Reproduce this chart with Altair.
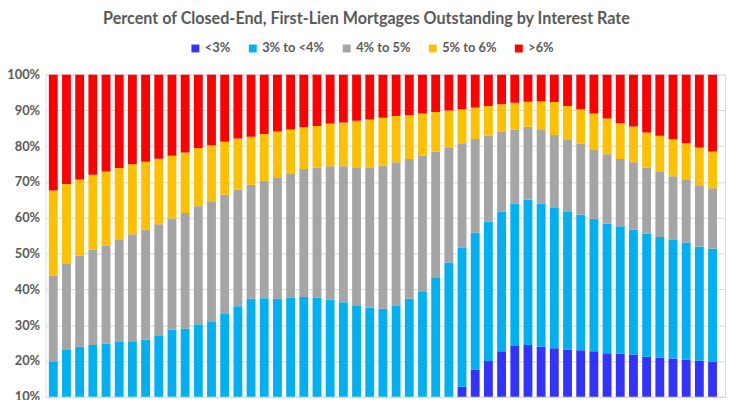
import altair as alt
import pandas as pd

# Quarters (2013Q1 .. 2025Q3), 51 bars
quarters = [f"{y}Q{q}" for y in range(2013, 2026) for q in range(1, 5)][:51]

series = ["<3%", "3% to <4%", "4% to 5%", "5% to 6%", ">6%"]
colors = ["#3333FF", "#00B0F0", "#A5A5A5", "#FFC000", "#FF0000"]

lt3 = [0.0] * 31 + [12.8, 17.6, 20.0, 22.7, 24.2, 24.5, 24.0, 23.6, 23.2, 23.0,
                    22.7, 22.2, 22.0, 21.8, 21.2, 21.0, 20.7, 20.4, 20.1, 19.9]

r3to4 = [19.7, 23.1, 24.0, 24.5, 24.9, 25.3, 25.5, 26.0, 27.2, 28.7,
         29.1, 30.3, 31.1, 33.1, 35.3, 37.4, 37.5, 37.4, 37.7, 37.9,
         37.7, 37.1, 36.4, 35.6, 34.9, 34.6, 35.6, 37.4, 39.5, 43.4,
         47.5, 38.9, 38.2, 38.9, 39.0, 39.8, 40.5, 40.0, 39.1, 38.4,
         37.9, 37.0, 36.2, 35.6, 34.9, 34.4, 33.6, 33.1, 32.7, 31.9, 31.5]

r4to5 = [24.1, 24.0, 25.4, 26.6, 27.3, 28.5, 29.9, 30.7, 31.0, 31.1,
         32.2, 32.9, 33.5, 33.3, 32.5, 31.8, 32.8, 33.9, 34.7, 35.7,
         36.3, 37.3, 38.0, 38.3, 39.0, 40.0, 39.9, 39.0, 37.9, 35.1,
         32.2, 29.1, 26.2, 24.0, 22.2, 20.6, 20.4, 20.7, 20.4, 20.3,
         19.8, 19.4, 19.3, 18.8, 18.8, 18.4, 18.2, 17.8, 17.4, 17.1, 16.8]

r5to6 = [23.8, 22.3, 21.3, 20.9, 20.7, 20.1, 19.5, 18.9, 18.3, 17.5,
         16.9, 16.3, 15.6, 14.8, 14.3, 13.4, 13.1, 12.8, 12.2, 11.7,
         11.6, 11.9, 12.2, 13.2, 13.5, 13.3, 12.9, 12.3, 11.7, 11.0,
         10.2, 9.5, 8.8, 8.3, 7.8, 7.5, 7.0, 7.8, 9.2, 9.3,
         9.6, 10.0, 10.0, 10.0, 10.0, 9.8, 10.1, 10.3, 10.3, 10.5, 10.3]

gt6 = [32.4, 30.6, 29.3, 28.0, 27.1, 26.1, 25.1, 24.4, 23.5, 22.7,
       21.8, 20.5, 19.8, 18.8, 17.9, 17.4, 16.6, 15.9, 15.4, 14.7,
       14.4, 13.7, 13.4, 12.9, 12.6, 12.1, 11.6, 11.3, 10.9, 10.5,
       10.1, 9.7, 9.2, 8.8, 8.3, 7.9, 7.6, 7.5, 7.7, 8.8,
       9.7, 10.9, 12.3, 13.6, 14.5, 16.2, 17.1, 18.1, 19.2, 20.4, 21.5]

values = [lt3, r3to4, r4to5, r5to6, gt6]

rows = []
for rank, (name, vals) in enumerate(zip(series, values)):
    for q, v in zip(quarters, vals):
        rows.append({"quarter": q, "rate": name, "share": v, "rank": rank})
df = pd.DataFrame(rows)

TXT = "#595959"
FONT = "Lato"

chart = (
    alt.Chart(df)
    .mark_bar(clip=True)
    .encode(
        x=alt.X(
            "quarter:N",
            sort=quarters,
            axis=None,
            scale=alt.Scale(paddingInner=0.33, paddingOuter=0.43, align=0.29),
        ),
        y=alt.Y(
            "share:Q",
            stack="zero",
            scale=alt.Scale(domain=[10, 100], nice=False, zero=False),
            axis=alt.Axis(
                values=[10, 20, 30, 40, 50, 60, 70, 80, 90, 100],
                labelExpr="datum.value + '%'",
                title=None,
                domain=False,
                ticks=False,
                grid=True,
                gridColor="#D9D9D9",
                gridWidth=1,
                labelFont=FONT,
                labelFontSize=13,
                labelFontWeight="bold",
                labelColor=TXT,
                labelPadding=6,
            ),
        ),
        color=alt.Color(
            "rate:N",
            scale=alt.Scale(domain=series, range=colors),
            legend=alt.Legend(
                title=None,
                orient="none",
                direction="horizontal",
                legendX=145,
                legendY=-33,
                symbolType="square",
                symbolSize=64,
                symbolStrokeWidth=0,
                symbolOpacity=1,
                labelFont=FONT,
                labelFontSize=13,
                labelFontWeight="bold",
                labelColor=TXT,
                labelOffset=3,
                columnPadding=16,
                padding=0,
            ),
        ),
        order=alt.Order("rank:Q", sort="ascending"),
    )
    .properties(
        width=687,
        height=326,
        autosize=alt.AutoSizeParams(type="none"),
        padding={"left": 38, "top": 65, "right": 2, "bottom": 1},
        title=alt.TitleParams(
            text="Percent of Closed-End, First-Lien Mortgages Outstanding by Interest Rate",
            font=FONT,
            fontSize=16.3,
            fontWeight="bold",
            color=TXT,
            anchor="middle",
            dx=-19,
            offset=15,
        ),
    )
    .configure_view(stroke=None)
    .configure(background="white")
)

chart.save("out.html", embed_options={"renderer": "svg", "actions": False})
